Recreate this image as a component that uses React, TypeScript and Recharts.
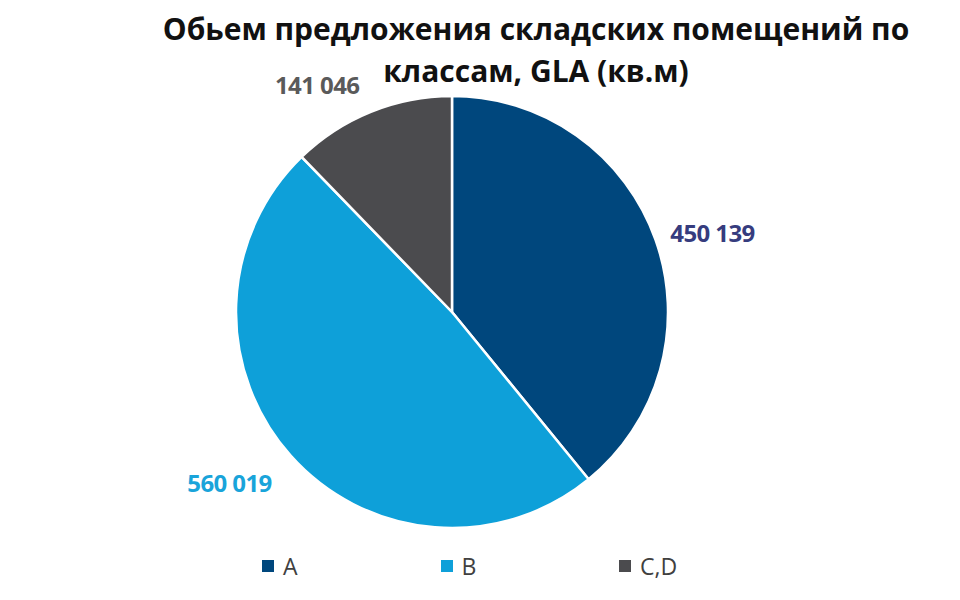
import React from "react";
import { PieChart, Pie, Cell, Legend } from "recharts";

const categories = ["A", "B", "C,D"];
const values = [450139, 560019, 141046];
const valueLabels = ["450 139", "560 019", "141 046"];
const sliceColors = ["#00477D", "#0EA0D9", "#4B4B4E"];
const labelColors = ["#363C7E", "#19A4DA", "#5A5A5A"];
const titleLines = ["Обьем предложения складских помещений по", "классам, GLA (кв.м)"];

const data = categories.map((name, i) => ({ name, value: values[i], label: valueLabels[i] }));

const RAD = Math.PI / 180;

const renderLabel = (props: any) => {
  const { cx, cy, midAngle, outerRadius, index } = props;
  const r = outerRadius + 20;
  const cos = Math.cos(-midAngle * RAD);
  const sin = Math.sin(-midAngle * RAD);
  const x = cx + r * cos - 4;
  const y = cy + r * sin + sin * 14 + 4;
  const anchor = cos >= 0 ? "start" : "end";
  return (
    <text
      x={x}
      y={y}
      textAnchor={anchor}
      dominantBaseline="central"
      fill={labelColors[index]}
      fontFamily="'Open Sans', sans-serif"
      fontWeight={700}
      fontSize={24}
      letterSpacing={-0.6}
    >
      {valueLabels[index]}
    </text>
  );
};

const renderLegend = (props: any) => {
  const { payload } = props;
  return (
    <div style={{ position: "relative", width: 960, height: 40 }}>
      {payload.map((entry: any, i: number) => (
        <div
          key={entry.value}
          style={{
            position: "absolute",
            left: 262 + i * 178.5,
            top: 0,
            display: "flex",
            alignItems: "center",
            fontFamily: "'Open Sans', sans-serif",
            fontSize: 23,
            color: "#404040",
          }}
        >
          <span
            style={{
              display: "inline-block",
              width: 12,
              height: 12,
              background: entry.color,
              marginRight: 9,
            }}
          />
          <span>{entry.value}</span>
        </div>
      ))}
    </div>
  );
};

export default function App() {
  return (
    <div style={{ position: "absolute", left: 0, top: 0, width: 960, height: 600, background: "#fff" }}>
      <div
        style={{
          position: "absolute",
          left: 136,
          top: 8,
          width: 800,
          textAlign: "center",
          fontFamily: "'Open Sans', sans-serif",
          fontWeight: 700,
          fontSize: 30,
          lineHeight: "42px",
          color: "#111",
          zIndex: 2,
        }}
      >
        {titleLines.map((t) => (
          <div key={t}>{t}</div>
        ))}
      </div>
      <PieChart width={960} height={600} margin={{ top: 0, right: 0, bottom: 0, left: 0 }}>
        <Pie
          data={data}
          dataKey="value"
          nameKey="name"
          cx={452}
          cy={312}
          outerRadius={216}
          startAngle={90}
          endAngle={-270}
          stroke="#ffffff"
          strokeWidth={2.5}
          label={renderLabel}
          labelLine={false}
          isAnimationActive={false}
        >
          {data.map((d, i) => (
            <Cell key={d.name} fill={sliceColors[i]} />
          ))}
        </Pie>
        <Legend
          content={renderLegend}
          verticalAlign="bottom"
          wrapperStyle={{ position: "absolute", top: 550, left: 0, width: 960 }}
        />
      </PieChart>
    </div>
  );
}
